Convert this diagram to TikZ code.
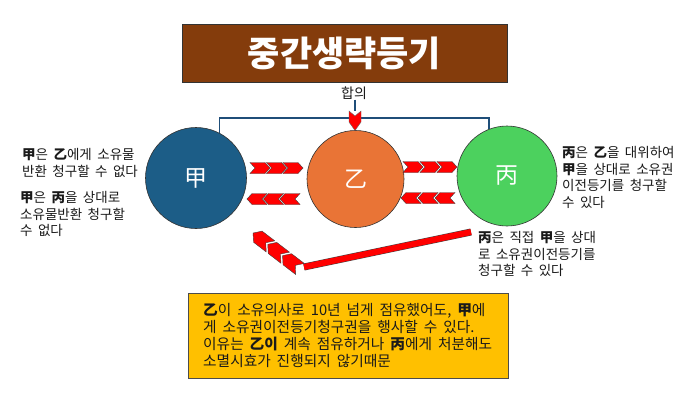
\documentclass[tikz,border=0pt]{standalone}
\usepackage{fontspec}
\setmainfont{Noto Sans CJK KR}[WordSpace=1.8]
\definecolor{titlec}{HTML}{843C0C}
\definecolor{jiac}{HTML}{1C5D87}
\definecolor{yic}{HTML}{E97436}
\definecolor{bingc}{HTML}{4CD15E}
\definecolor{yelc}{HTML}{FFC000}
\definecolor{brkc}{HTML}{1F4E79}
\definecolor{txtc}{HTML}{1A1A1A}
\newcommand{\hj}[1]{\textbf{#1}}
\begin{document}
\begin{tikzpicture}[x=1pt,y=-1pt,
  txt/.style={inner sep=0pt, align=left, anchor=north west, text=txtc, font=\fontsize{13.5}{16.8}\selectfont},
  ball/.style={circle, draw=black!80, line width=0.6pt, text=white, inner sep=0pt, font=\fontsize{23}{23}\selectfont},
  chevstyle/.style={fill=red, draw=black!75, line width=0.4pt, line join=miter},
  brk/.style={draw=brkc, line width=1.2pt},
  chev/.pic={\path[chevstyle] (0pt,5.5pt) -- (15pt,5.5pt) -- (20pt,0pt) -- (15pt,-5.5pt) -- (0pt,-5.5pt) -- (5pt,0pt) -- cycle;},
  bigchev/.pic={\path[chevstyle] (0pt,7pt) -- (16pt,7pt) -- (22pt,0pt) -- (16pt,-7pt) -- (0pt,-7pt) -- (6pt,0pt) -- cycle;}
]
\fill[white] (0,0) rectangle (700,400);
\useasboundingbox (0,0) rectangle (700,400);

% title
\node[fill=titlec, draw=black!80, line width=0.6pt, minimum width=325pt, minimum height=58pt,
      text=white, font=\fontsize{35}{35}\selectfont\bfseries] (title) at (344.5,53) {중간생략등기};

% circles
\node[ball, fill=jiac, minimum size=101pt] (jia) at (196,178) {甲};
\node[ball, fill=yic, minimum size=97pt] (yi) at (355.5,179) {乙};
\node[ball, fill=bingc, minimum size=100pt] (bing) at (507,176) {丙};

% agreement bracket
\node[inner sep=0pt, text=txtc, font=\fontsize{14}{14}\selectfont] (hap) at (354,93) {합의};
\coordinate (brkY) at (355,118);
\coordinate (arrTop) at (355,111);
\draw[brk] (jia.62) -- (jia.62 |- brkY) -- (bing.111 |- brkY) -- (bing.111);
\draw[brk] (hap.south -| arrTop) -- (arrTop);
\path[fill=red, draw=black!60, line width=0.4pt]
  (349,111) -- (355,116) -- (361,111) -- (361,122) -- (355,130.5) -- (349,122) -- cycle;

% chevron rows
\pic at (250,168) {chev};
\pic at (266.5,168) {chev};
\pic at (283,168) {chev};
\pic[rotate=180] at (300,199) {chev};
\pic[rotate=180] at (283.5,199) {chev};
\pic[rotate=180] at (267,199) {chev};
\pic at (403,167) {chev};
\pic at (420,167) {chev};
\pic at (437,167) {chev};
\pic[rotate=180] at (455,198) {chev};
\pic[rotate=180] at (438,198) {chev};
\pic[rotate=180] at (421,198) {chev};

% long arrow from bing text toward jia
\coordinate (barS) at (471,232);
\coordinate (barE) at (304,267);
\draw[draw=black!75, double=red, double distance=6pt, line width=0.5pt] (barS) -- (barE);
\pic[rotate=142.5] at (300,269) {bigchev};
\pic[rotate=142.5] at (285.2,257.7) {bigchev};
\pic[rotate=142.5] at (270.5,246.4) {bigchev};

% side texts
\node[txt] (l1) at (22,148) {\hj{甲}은 \hj{乙}에게 소유물\\반환 청구할 수 없다};
\node[txt] (l2) at (20,191) {\hj{甲}은 \hj{丙}을 상대로\\소유물반환 청구할\\수 없다};
\node[txt] (r1) at (562,146) {\hj{丙}은 \hj{乙}을 대위하여\\\hj{甲}을 상대로 소유권\\이전등기를 청구할\\수 있다};
\node[txt] (r2) at (478,231) {\hj{丙}은 직접 \hj{甲}을 상대\\로 소유권이전등기를\\청구할 수 있다};

% conclusion box
\node[fill=yelc, draw=black!70, line width=0.6pt, minimum width=320pt, minimum height=85pt] (ybox) at (348,335.5) {};
\node[txt, anchor=west, font=\fontsize{14.7}{16.7}\selectfont] (ytext) at (203,335.5)
  {\hj{乙}이 소유의사로 10년 넘게 점유했어도, \hj{甲}에\\게 소유권이전등기청구권을 행사할 수 있다.\\이유는 \hj{乙이} 계속 점유하거나 \hj{丙}에게 처분해도\\소멸시효가 진행되지 않기때문};
\end{tikzpicture}
\end{document}
